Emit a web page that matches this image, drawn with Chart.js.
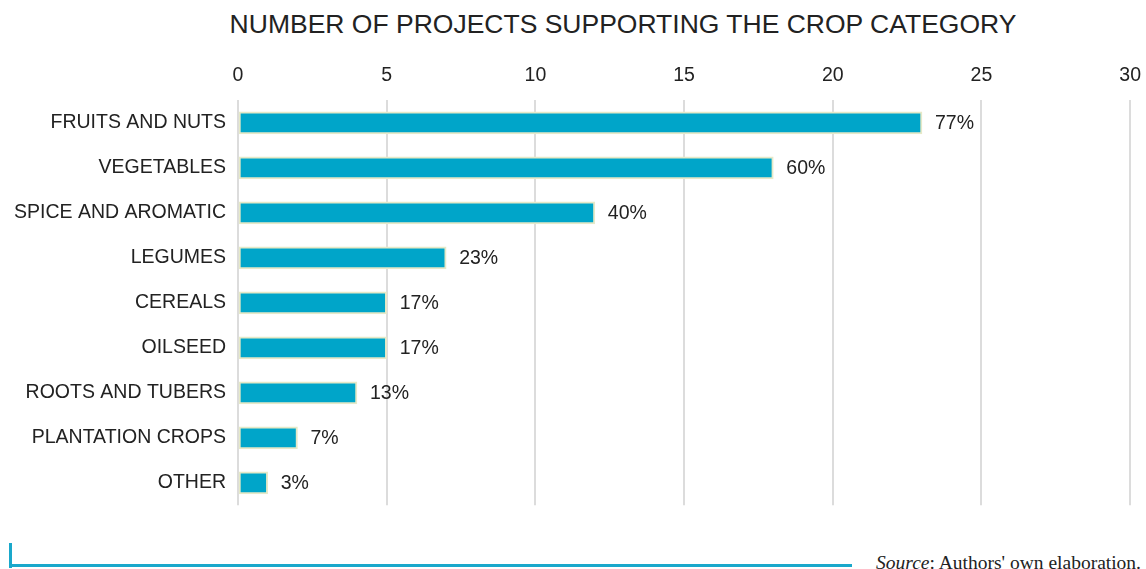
<!DOCTYPE html>
<html>
<head>
<meta charset="utf-8">
<script src="https://cdn.jsdelivr.net/npm/chart.js@4"></script>
<style>
    html, body { margin: 0; padding: 0; background: #fff; }
    #wrap { position: relative; width: 1146px; height: 569px; overflow: hidden; }
    #title {
        position: absolute; left: 0; top: 9px; width: 1246px; text-align: center;
        font-family: 'Liberation Sans', Arial, sans-serif; font-size: 26.5px; color: #222;
    }
    #chartBox { position: absolute; left: 0; top: 51px; width: 1154px; height: 470px; }
    #source {
        position: absolute; right: 5px; top: 552px;
        font-family: 'Liberation Serif', 'DejaVu Serif', serif; font-size: 19.5px; color: #222;
    }
    .rule { position: absolute; background: #1aa8cb; }
</style>
</head>
<body>
<div id="wrap">
    <div id="title">NUMBER OF PROJECTS SUPPORTING THE CROP CATEGORY</div>
    <div id="chartBox"><canvas id="cropChart"></canvas></div>
    <div class="rule" style="left:9px; top:543px; width:3px; height:25px;"></div>
    <div class="rule" style="left:9px; top:564px; width:843px; height:3px;"></div>
    <div id="source"><i>Source</i>: Authors' own elaboration.</div>
</div>
<script>
const categorias = ['FRUITS AND NUTS', 'VEGETABLES', 'SPICE AND AROMATIC', 'LEGUMES', 'CEREALS',
    'OILSEED', 'ROOTS AND TUBERS', 'PLANTATION CROPS', 'OTHER'];
const proyectos = [23, 18, 12, 7, 5, 5, 4, 2, 1];
const porcentajes = ['77%', '60%', '40%', '23%', '17%', '17%', '13%', '7%', '3%'];

const fuente = '"Liberation Sans", Arial, sans-serif';

// porcentaje a la derecha de cada barra
const etiquetas = {
    id: 'etiquetas',
    afterDatasetsDraw(chart) {
        const ctx = chart.ctx;
        const meta = chart.getDatasetMeta(0);
        ctx.save();
        ctx.font = '19.5px ' + fuente;
        ctx.fillStyle = '#222';
        ctx.textAlign = 'left';
        ctx.textBaseline = 'middle';
        meta.data.forEach((bar, i) => {
            ctx.fillText(porcentajes[i], bar.x + 13, bar.y + 1);
        });
        ctx.restore();
    }
};

new Chart(document.getElementById('cropChart'), {
    type: 'bar',
    data: {
        labels: categorias,
        datasets: [{
            data: proyectos,
            backgroundColor: '#00a5c9',
            borderColor: '#e6e9c8',
            borderWidth: 2,
            borderSkipped: false,
            barThickness: 22
        }]
    },
    plugins: [etiquetas],
    options: {
        indexAxis: 'y',
        responsive: true,
        maintainAspectRatio: false,
        animation: false,
        layout: { padding: { top: 0, right: 8, bottom: 0, left: 0 } },
        plugins: {
            legend: { display: false },
            tooltip: { enabled: false }
        },
        scales: {
            x: {
                position: 'top',
                min: 0,
                max: 30,
                ticks: {
                    stepSize: 5,
                    padding: 13,
                    color: '#222',
                    font: { family: 'Liberation Sans', size: 19.5 }
                },
                grid: { color: '#dcdcdc', lineWidth: 2, drawTicks: false },
                border: { display: false }
            },
            y: {
                afterFit(scale) { scale.width = 238; },
                ticks: {
                    padding: 4,
                    color: '#222',
                    font: { family: 'Liberation Sans', size: 19.5 }
                },
                grid: { display: false },
                border: { display: false }
            }
        }
    }
});
</script>
</body>
</html>
